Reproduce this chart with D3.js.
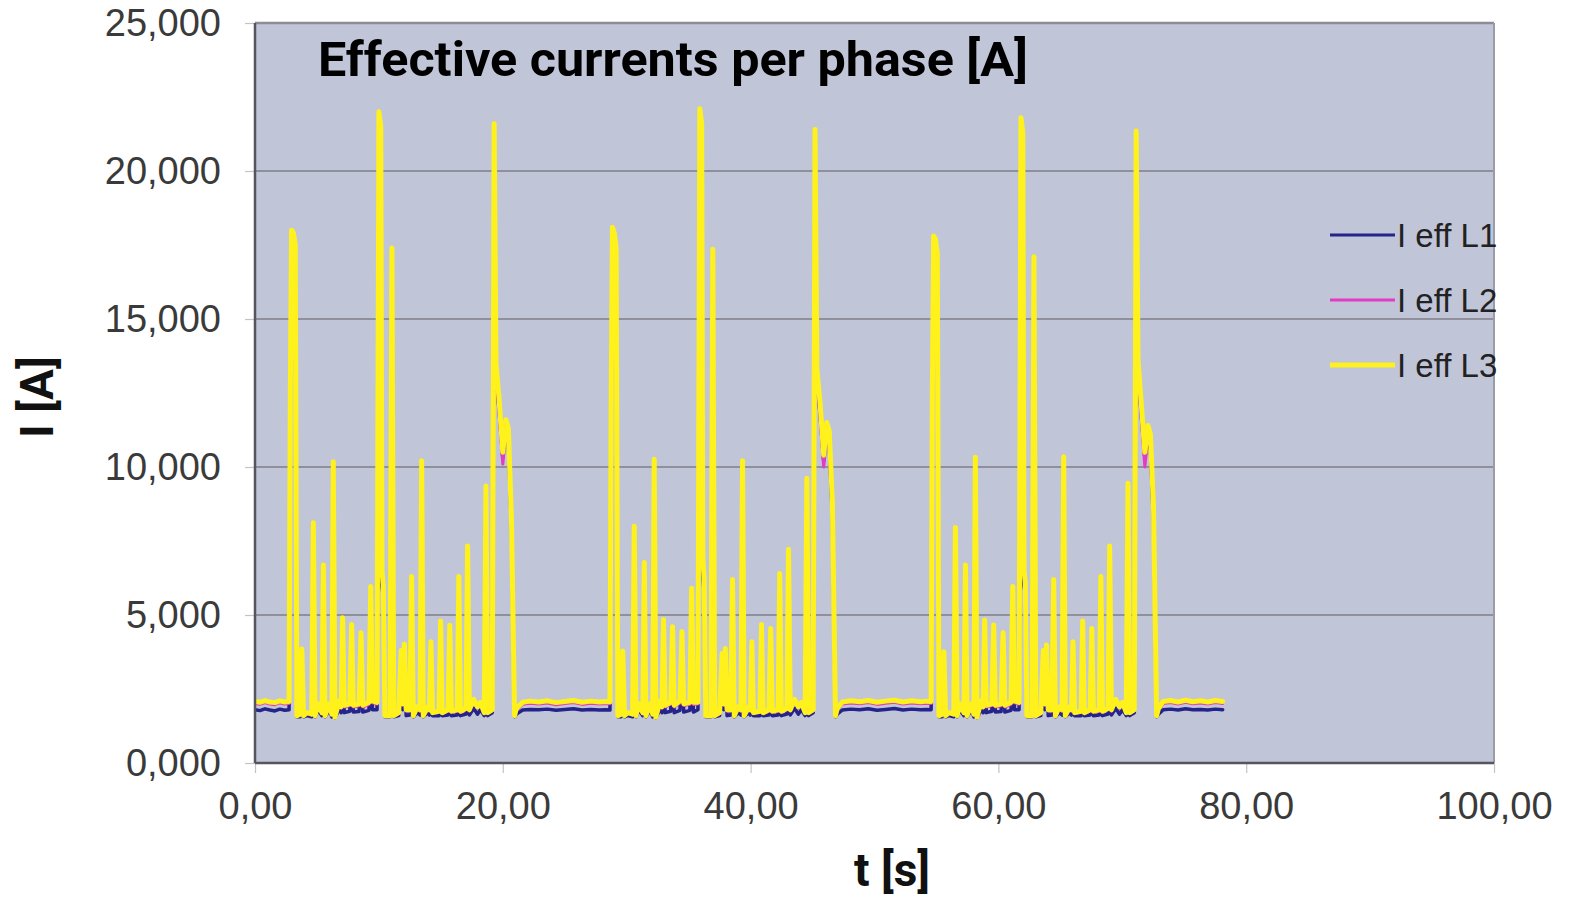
<!DOCTYPE html>
<html>
<head>
<meta charset="utf-8">
<script src="https://cdn.jsdelivr.net/npm/d3@7"></script>
<style>
  body { margin: 0; background: #fff; }
  svg { display: block; }
</style>
</head>
<body>
<svg id="chart" width="1580" height="900"></svg>
<script>
// time axis [s] (idle / cycle 1 / idle / cycle 2 / idle / cycle 3 / idle)
var time = [
  0, 0.4, 0.8, 1.2, 1.6, 2.0, 2.4, 2.75,
  2.85, 2.95, 3.10, 3.25, 3.38, 3.65, 3.78, 3.92, 4.20, 4.58, 4.71, 4.85,
  5.10, 5.40, 5.52, 5.65, 6.00, 6.20, 6.32, 6.45, 6.80, 6.95, 7.07, 7.20,
  7.65, 7.80, 7.93, 8.40, 8.56, 8.70, 9.20, 9.34, 9.48,
  9.85, 10.00, 10.15, 10.25, 10.35, 10.48, 10.90, 11.05, 11.20,
  11.60, 11.80, 11.92, 12.06, 12.20, 12.50, 12.64, 12.78,
  13.10, 13.32, 13.45, 13.58, 13.95, 14.08, 14.20, 14.33,
  14.85, 14.98, 15.11, 15.58, 15.72, 15.85, 16.32, 16.45, 16.58,
  17.03, 17.16, 17.30, 17.65, 17.95, 18.20, 18.50, 18.64, 18.78,
  19.15, 19.30, 19.45, 19.70, 20.00, 20.25, 20.45, 20.70, 20.95, 21.10,
  21.6, 22.2, 22.9, 23.6, 24.3, 25.0, 25.7, 26.4, 27.1, 27.8, 28.3, 28.65,
  28.75, 28.85, 29.00, 29.15, 29.28, 29.55, 29.68, 29.82, 30.10, 30.48, 30.61, 30.75,
  31.00, 31.30, 31.42, 31.55, 31.90, 32.10, 32.22, 32.35, 32.70, 32.85, 32.97, 33.10,
  33.55, 33.70, 33.83, 34.30, 34.46, 34.60, 35.10, 35.24, 35.38,
  35.75, 35.90, 36.05, 36.15, 36.25, 36.38, 36.80, 36.95, 37.10,
  37.50, 37.70, 37.82, 37.96, 38.10, 38.40, 38.54, 38.68,
  39.00, 39.22, 39.35, 39.48, 39.85, 39.98, 40.10, 40.23,
  40.75, 40.88, 41.01, 41.48, 41.62, 41.75, 42.22, 42.35, 42.48,
  42.93, 43.06, 43.20, 43.55, 43.85, 44.10, 44.40, 44.54, 44.68,
  45.05, 45.20, 45.35, 45.60, 45.90, 46.15, 46.35, 46.60, 46.85, 47.00,
  47.4, 48.1, 48.8, 49.5, 50.2, 50.9, 51.6, 52.3, 53.0, 53.7, 54.2, 54.57,
  54.67, 54.77, 54.92, 55.07, 55.20, 55.47, 55.60, 55.74, 56.02, 56.40, 56.53, 56.67,
  56.92, 57.22, 57.34, 57.47, 57.82, 58.02, 58.14, 58.27, 58.62, 58.77, 58.89, 59.02,
  59.47, 59.62, 59.75, 60.22, 60.38, 60.52, 61.02, 61.16, 61.30,
  61.67, 61.82, 61.97, 62.07, 62.17, 62.30, 62.72, 62.87, 63.02,
  63.42, 63.62, 63.74, 63.88, 64.02, 64.32, 64.46, 64.60,
  64.92, 65.14, 65.27, 65.40, 65.77, 65.90, 66.02, 66.15,
  66.67, 66.80, 66.93, 67.40, 67.54, 67.67, 68.14, 68.27, 68.40,
  68.85, 68.98, 69.12, 69.47, 69.77, 70.02, 70.32, 70.46, 70.60,
  70.97, 71.12, 71.27, 71.52, 71.82, 72.07, 72.27, 72.52, 72.77, 72.92,
  73.3, 73.9, 74.5, 75.1, 75.7, 76.3, 76.9, 77.5, 78.1
];

var effL1 = [
  1800, 1770, 1830, 1790, 1760, 1820, 1780, 1800,
  12400, 17900, 17800, 17400, 1560, 1560, 3750, 1560, 1600, 1560, 8050, 1560,
  1780, 1600, 6600, 1560, 1780, 1560, 10100, 1530, 1800, 1700, 4850, 1700,
  1750, 4600, 1720, 1740, 4350, 1720, 1780, 5900, 1800,
  1800, 21900, 21400, 6000, 5600, 1560, 1560, 17300, 1560,
  1600, 3750, 1800, 3950, 1600, 1620, 6250, 1560,
  1700, 1620, 10150, 1560, 1700, 1620, 4050, 1600,
  1600, 4750, 1600, 1620, 4600, 1600, 1620, 6250, 1600,
  1650, 7250, 1620, 1850, 1650, 1800, 1600, 9300, 1600,
  1700, 21500, 13200, 11900, 10300, 11300, 10800, 7900, 1560, 1650,
  1790, 1810, 1800, 1820, 1780, 1810, 1830, 1790, 1810, 1790, 1800, 1790,
  12400, 18000, 17800, 17300, 1560, 1560, 3700, 1560, 1600, 1560, 7950, 1560,
  1780, 1600, 6700, 1560, 1780, 1560, 10200, 1530, 1800, 1700, 4800, 1700,
  1750, 4550, 1700, 1780, 4400, 1720, 1780, 5850, 1720,
  1800, 22000, 21500, 6400, 5700, 1560, 1560, 17250, 1560,
  1600, 3650, 1800, 3800, 1600, 1620, 6150, 1560,
  1700, 1620, 10150, 1560, 1700, 1620, 4050, 1600,
  1600, 4620, 1600, 1620, 4500, 1600, 1620, 6350, 1600,
  1650, 7150, 1620, 1850, 1650, 1800, 1600, 9550, 1600,
  1700, 21300, 13000, 11800, 10200, 11200, 10700, 8300, 1560, 1650,
  1790, 1820, 1800, 1830, 1780, 1810, 1840, 1790, 1820, 1800, 1810, 1800,
  12400, 17700, 17600, 17100, 1560, 1560, 3700, 1560, 1600, 1560, 7900, 1560,
  1780, 1600, 6620, 1560, 1780, 1560, 10250, 1530, 1800, 1700, 4770, 1700,
  1750, 4600, 1720, 1740, 4350, 1720, 1780, 5900, 1800,
  1800, 21700, 21200, 6000, 5700, 1560, 1560, 17000, 1560,
  1600, 3750, 1800, 3920, 1600, 1620, 6150, 1560,
  1700, 1620, 10300, 1560, 1700, 1620, 4050, 1600,
  1600, 4750, 1600, 1620, 4500, 1600, 1620, 6250, 1600,
  1650, 7250, 1620, 1850, 1650, 1800, 1600, 9400, 1600,
  1700, 21250, 13300, 11800, 10300, 11100, 10600, 8100, 1560, 1650,
  1800, 1820, 1790, 1830, 1800, 1810, 1790, 1820, 1800
];

var effL2 = [
  2010, 1980, 2040, 1990, 1970, 2030, 1990, 2010,
  12450, 17950, 17850, 17450, 1580, 1620, 3800, 1580, 1670, 1620, 8100, 1580,
  1940, 1670, 6650, 1580, 1940, 1620, 10150, 1540, 2030, 1850, 4880, 1890,
  1940, 4650, 1890, 1930, 4380, 1890, 1980, 5930, 2030,
  1990, 21950, 21450, 6300, 5800, 1580, 1580, 17350, 1580,
  1670, 3780, 1940, 4000, 1750, 1750, 6280, 1580,
  1850, 1750, 10180, 1580, 1850, 1750, 4080, 1670,
  1710, 4780, 1670, 1750, 4630, 1710, 1750, 6280, 1710,
  1800, 7300, 1750, 2080, 1850, 1990, 1670, 9330, 1670,
  1760, 21550, 13300, 11800, 10100, 11200, 10900, 8000, 1580, 1790,
  1980, 2020, 1990, 2030, 1970, 2010, 2040, 1980, 2020, 1990, 2010, 2000,
  12450, 18050, 17850, 17350, 1580, 1620, 3750, 1580, 1670, 1620, 7980, 1580,
  1940, 1670, 6740, 1580, 1940, 1620, 10230, 1540, 2030, 1850, 4820, 1890,
  1990, 4580, 1890, 2030, 4420, 1940, 1980, 5870, 1980,
  1990, 22050, 21550, 6700, 6000, 1580, 1580, 17300, 1580,
  1670, 3680, 1940, 3850, 1750, 1750, 6180, 1580,
  1850, 1750, 10180, 1580, 1850, 1750, 4080, 1670,
  1710, 4660, 1670, 1750, 4520, 1710, 1750, 6380, 1710,
  1800, 7200, 1750, 2080, 1850, 1990, 1670, 9600, 1670,
  1760, 21350, 13100, 11700, 10000, 11100, 10800, 8500, 1580, 1790,
  1990, 2030, 2000, 2040, 1980, 2020, 2050, 1990, 2030, 2000, 2020, 2010,
  12450, 17750, 17650, 17150, 1580, 1620, 3740, 1580, 1670, 1620, 7940, 1580,
  1940, 1670, 6660, 1580, 1940, 1620, 10300, 1540, 2030, 1850, 4800, 1890,
  1940, 4640, 1890, 1930, 4380, 1890, 1980, 5930, 2030,
  1990, 21750, 21250, 6300, 5900, 1580, 1580, 17050, 1580,
  1670, 3780, 1940, 3970, 1750, 1750, 6180, 1580,
  1850, 1750, 10320, 1580, 1850, 1750, 4080, 1670,
  1710, 4780, 1670, 1750, 4520, 1710, 1750, 6280, 1710,
  1800, 7300, 1750, 2080, 1850, 1990, 1670, 9420, 1670,
  1760, 21300, 13400, 11700, 10000, 11000, 10700, 8300, 1580, 1790,
  2010, 2040, 1990, 2050, 2000, 2030, 1990, 2040, 2010
];

var effL3 = [
  2080, 2050, 2110, 2060, 2040, 2100, 2060, 2080,
  12500, 18000, 17900, 17500, 1600, 1650, 3850, 1600, 1700, 1650, 8120, 1600,
  2000, 1700, 6690, 1600, 2000, 1650, 10180, 1550, 2100, 1900, 4910, 1950,
  2000, 4680, 1950, 2000, 4400, 1950, 2050, 5960, 2100,
  2050, 22000, 21500, 6500, 6000, 1600, 1600, 17400, 1600,
  1700, 3800, 2000, 4020, 1800, 1800, 6300, 1600,
  1900, 1800, 10210, 1600, 1900, 1800, 4100, 1700,
  1750, 4800, 1700, 1800, 4650, 1750, 1800, 6300, 1750,
  1850, 7330, 1800, 2150, 1900, 2050, 1700, 9360, 1700,
  1800, 21600, 13500, 12300, 10500, 11600, 11300, 8200, 1600, 1850,
  2050, 2090, 2060, 2100, 2040, 2080, 2110, 2050, 2090, 2060, 2080, 2070,
  12500, 18100, 17900, 17400, 1600, 1650, 3780, 1600, 1700, 1650, 8000, 1600,
  2000, 1700, 6770, 1600, 2000, 1650, 10260, 1550, 2100, 1900, 4850, 1950,
  2050, 4600, 1950, 2100, 4440, 2000, 2050, 5900, 2050,
  2050, 22100, 21600, 6900, 6200, 1600, 1600, 17360, 1600,
  1700, 3700, 2000, 3870, 1800, 1800, 6200, 1600,
  1900, 1800, 10210, 1600, 1900, 1800, 4100, 1700,
  1750, 4680, 1700, 1800, 4540, 1750, 1800, 6400, 1750,
  1850, 7220, 1800, 2150, 1900, 2050, 1700, 9620, 1700,
  1800, 21400, 13300, 12200, 10400, 11500, 11200, 8800, 1600, 1850,
  2060, 2100, 2070, 2110, 2050, 2090, 2120, 2060, 2100, 2070, 2090, 2080,
  12500, 17800, 17700, 17200, 1600, 1650, 3760, 1600, 1700, 1650, 7960, 1600,
  2000, 1700, 6690, 1600, 2000, 1650, 10330, 1550, 2100, 1900, 4830, 1950,
  2000, 4660, 1950, 2000, 4400, 1950, 2050, 5960, 2100,
  2050, 21800, 21300, 6500, 6100, 1600, 1600, 17100, 1600,
  1700, 3800, 2000, 3990, 1800, 1800, 6200, 1600,
  1900, 1800, 10350, 1600, 1900, 1800, 4100, 1700,
  1750, 4800, 1700, 1800, 4540, 1750, 1800, 6300, 1750,
  1850, 7330, 1800, 2150, 1900, 2050, 1700, 9450, 1700,
  1800, 21350, 13600, 12200, 10500, 11400, 11100, 8600, 1600, 1850,
  2080, 2110, 2060, 2120, 2070, 2100, 2060, 2110, 2080
];

var seriesNames = ["I eff L1", "I eff L2", "I eff L3"];
var seriesColors = ["#24248a", "#e23cc6", "#fff21c"];
var seriesWidths = [3.5, 3, 5];
var yTicks = [0, 5000, 10000, 15000, 20000, 25000];
var xTicks = [0, 20, 40, 60, 80, 100];

if (effL1.length != time.length || effL2.length != time.length || effL3.length != time.length) {
  console.log("length mismatch", time.length, effL1.length, effL2.length, effL3.length);
}

var margin = { top: 23, right: 86, bottom: 137, left: 255 };
var width = 1580 - margin.left - margin.right;
var height = 900 - margin.top - margin.bottom;

var svg = d3.select("#chart");
svg.append("rect").attr("width", 1580).attr("height", 900).attr("fill", "#fff");

var g = svg.append("g").attr("transform", "translate(" + margin.left + "," + margin.top + ")");

var x = d3.scaleLinear().domain([0, 100]).range([0, width]);
var y = d3.scaleLinear().domain([0, 25000]).range([height, 0]);

// plot area
g.append("rect").attr("width", width).attr("height", height).attr("fill", "#c1c5d8");

// grid
g.selectAll(".grid")
  .data(yTicks.filter(function (d) { return d > 0; }))
  .enter()
  .append("line")
  .attr("x1", 0)
  .attr("x2", width)
  .attr("y1", function (d) { return y(d); })
  .attr("y2", function (d) { return y(d); })
  .attr("stroke", function (d) { return d == 25000 ? "#8c8c98" : "#7e7e88"; })
  .attr("stroke-width", function (d) { return d == 25000 ? 2.5 : 1.6; });

g.append("line")
  .attr("x1", width).attr("x2", width)
  .attr("y1", 0).attr("y2", height)
  .attr("stroke", "#9a9aa8").attr("stroke-width", 2);

// axes
var fmtY = function (d) { return (d / 1000).toFixed(3).replace(".", ","); };
var fmtX = function (d) { return d.toFixed(2).replace(".", ","); };

var yAxis = g.append("g").call(d3.axisLeft(y).tickValues(yTicks).tickSize(10).tickPadding(24).tickFormat(fmtY));
var xAxis = g.append("g")
  .attr("transform", "translate(0," + height + ")")
  .call(d3.axisBottom(x).tickValues(xTicks).tickSize(10).tickPadding(19).tickFormat(fmtX));

[yAxis, xAxis].forEach(function (ax) {
  ax.select(".domain").remove();
  ax.selectAll(".tick line").attr("stroke", "#c4c4c4").attr("stroke-width", 1.2);
  ax.selectAll(".tick text")
    .attr("fill", "#3a3a3a")
    .style("font-family", "'Liberation Sans', Arial, sans-serif")
    .style("font-size", "38px");
});

// lines
var clip = g.append("clipPath").attr("id", "plotclip");
clip.append("rect").attr("width", width).attr("height", height);

var seriesValues = [effL1, effL2, effL3];
var lines = g.append("g").attr("clip-path", "url(#plotclip)");
seriesValues.forEach(function (vals, k) {
  var line = d3.line()
    .x(function (d, i) { return x(time[i]); })
    .y(function (d) { return y(d); });
  lines.append("path")
    .datum(vals)
    .attr("fill", "none")
    .attr("stroke", seriesColors[k])
    .attr("stroke-width", seriesWidths[k])
    .attr("stroke-linejoin", "round")
    .attr("stroke-linecap", "round")
    .attr("d", line);
});

// axis frame (left and bottom darker)
g.append("line").attr("x1", 0).attr("x2", 0).attr("y1", 0).attr("y2", height)
  .attr("stroke", "#55555f").attr("stroke-width", 2.5);
g.append("line").attr("x1", 0).attr("x2", width).attr("y1", height).attr("y2", height)
  .attr("stroke", "#55555f").attr("stroke-width", 2.5);

// legend
var legend = svg.append("g");
seriesNames.forEach(function (name, k) {
  var ly = 235 + k * 65;
  legend.append("line")
    .attr("x1", 1330).attr("x2", 1395)
    .attr("y1", ly).attr("y2", ly)
    .attr("stroke", seriesColors[k])
    .attr("stroke-width", k == 2 ? 5 : 3);
  legend.append("text")
    .attr("x", 1397).attr("y", ly)
    .attr("dy", "0.35em")
    .attr("fill", "#222")
    .style("font-family", "'Liberation Sans', Arial, sans-serif")
    .style("font-size", "33px")
    .text(name);
});

// titles
svg.append("text")
  .attr("x", 318).attr("y", 76)
  .attr("textLength", 710)
  .attr("lengthAdjust", "spacingAndGlyphs")
  .style("font-family", "Roboto, 'Noto Sans', sans-serif")
  .style("font-weight", "bold")
  .style("font-size", "48px")
  .attr("fill", "#000")
  .text("Effective currents per phase [A]");

svg.append("text")
  .attr("transform", "translate(36,397) rotate(-90)")
  .attr("text-anchor", "middle")
  .attr("dy", "0.36em")
  .style("font-family", "Roboto, 'Noto Sans', sans-serif")
  .style("font-weight", "bold")
  .style("font-size", "46px")
  .attr("fill", "#111")
  .text("I [A]");

svg.append("text")
  .attr("x", 892).attr("y", 886)
  .attr("text-anchor", "middle")
  .style("font-family", "Roboto, 'Noto Sans', sans-serif")
  .style("font-weight", "bold")
  .style("font-size", "46px")
  .attr("fill", "#111")
  .text("t [s]");
</script>
</body>
</html>
